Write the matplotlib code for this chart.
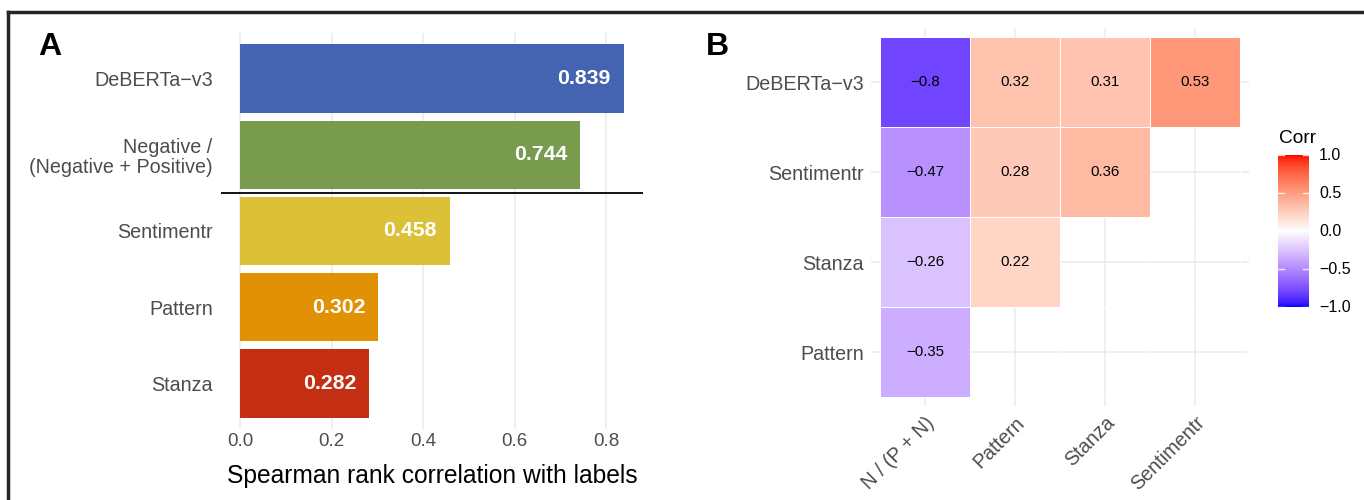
import numpy as np
import matplotlib
matplotlib.use("Agg")
import matplotlib.pyplot as plt
from matplotlib.colors import ListedColormap, Normalize
from matplotlib.lines import Line2D
import matplotlib.transforms as mtransforms

plt.rcParams['font.family'] = ['Liberation Sans', 'DejaVu Sans']

# ---------------- data ----------------
bar_labels = ["DeBERTa\u2212v3", "Negative /\n(Negative + Positive)", "Sentimentr", "Pattern", "Stanza"]
bar_values = [0.839, 0.744, 0.458, 0.302, 0.282]
bar_colors = ["#4463B0", "#789B4E", "#DBC038", "#E09104", "#C42E12"]
bar_xticks = [0.0, 0.2, 0.4, 0.6, 0.8]

heat_rows = ["DeBERTa\u2212v3", "Sentimentr", "Stanza", "Pattern"]
heat_cols = ["N / (P + N)", "Pattern", "Stanza", "Sentimentr"]
heat_values = [
    [-0.80, 0.32, 0.31, 0.53],
    [-0.47, 0.28, 0.36, np.nan],
    [-0.26, 0.22, np.nan, np.nan],
    [-0.35, np.nan, np.nan, np.nan],
]
legend_ticks = [-1.0, -0.5, 0.0, 0.5, 1.0]

# ---------------- helpers ----------------
W, H = 1364, 500
fig = plt.figure(figsize=(W / 100, H / 100), dpi=100)


def px_axes(l, t, r, b):
    return fig.add_axes([l / W, 1 - b / H, (r - l) / W, (b - t) / H])


M = np.array([[0.4124564, 0.3575761, 0.1804375],
              [0.2126729, 0.7151522, 0.0721750],
              [0.0193339, 0.1191920, 0.9503041]])
Minv = np.linalg.inv(M)
WHITE = np.array([0.95047, 1.0, 1.08883])


def srgb_to_lab(rgb):
    rgb = np.asarray(rgb, float)
    lin = np.where(rgb <= 0.04045, rgb / 12.92, ((rgb + 0.055) / 1.055) ** 2.4)
    xyz = M @ lin / WHITE
    d = 6 / 29
    f = np.where(xyz > d ** 3, np.cbrt(xyz), xyz / (3 * d * d) + 4 / 29)
    return np.array([116 * f[1] - 16, 500 * (f[0] - f[1]), 200 * (f[1] - f[2])])


def lab_to_srgb(lab):
    L, a, b = lab
    fy = (L + 16) / 116
    fx = fy + a / 500
    fz = fy - b / 200
    d = 6 / 29
    f = np.array([fx, fy, fz])
    xyz = np.where(f > d, f ** 3, 3 * d * d * (f - 4 / 29)) * WHITE
    lin = np.clip(Minv @ xyz, 0, 1)
    return np.where(lin <= 0.0031308, 12.92 * lin, 1.055 * lin ** (1 / 2.4) - 0.055)


lab_low = srgb_to_lab([0, 0, 1])
lab_mid = srgb_to_lab([1, 1, 1])
lab_high = srgb_to_lab([1, 0, 0])
samples = []
for t in np.linspace(-1, 1, 301):
    if t < 0:
        lab = lab_mid + (-t) * (lab_low - lab_mid)
    else:
        lab = lab_mid + t * (lab_high - lab_mid)
    samples.append(np.clip(lab_to_srgb(lab), 0, 1))
cmap = ListedColormap(samples)
norm = Normalize(-1, 1)

grid_col = "#EBEBEB"
tick_col = "#4D4D4D"
lab_fs = 14.2

# ---------------- panel A ----------------
axA = px_axes(221, 33, 643, 429)
ypos = np.arange(len(bar_values))
axA.barh(ypos, bar_values, height=0.9, color=bar_colors, zorder=2)
for y, v in zip(ypos, bar_values):
    axA.text(v - 0.028, y, f"{v:.3f}", ha="right", va="center", color="white",
             fontsize=15.3, fontweight="bold", zorder=3)
axA.axhline(1.5, color="black", lw=1.3, zorder=4)
axA.set_xlim(-0.042, 0.881)
axA.set_ylim(len(bar_values) - 0.4, -0.6)
axA.set_yticks(ypos)
axA.set_yticklabels(bar_labels, fontsize=lab_fs, color=tick_col, multialignment="right",
                    linespacing=1.1)
axA.set_xticks(bar_xticks)
axA.set_xticklabels([f"{t:.1f}" for t in bar_xticks], fontsize=13.5, color=tick_col)
axA.tick_params(length=0, pad=6)
axA.tick_params(axis="x", pad=3)
axA.grid(axis="x", color=grid_col, lw=1.1, zorder=0)
axA.set_axisbelow(True)
for s in axA.spines.values():
    s.set_visible(False)
axA.set_xlabel("Spearman rank correlation with labels", fontsize=17.7, labelpad=10)

# ---------------- panel B ----------------
axB = px_axes(871, 28, 1249, 406)
vals = np.ma.masked_invalid(np.array(heat_values, float))
xe = np.arange(len(heat_cols) + 1) - 0.5
ye = np.arange(len(heat_rows) + 1) - 0.5
axB.pcolormesh(xe, ye, vals, cmap=cmap, norm=norm, edgecolors="#FFFFFF", linewidth=0.4, zorder=2)
for i in range(len(heat_rows)):
    for j in range(len(heat_cols)):
        v = heat_values[i][j]
        if not np.isnan(v):
            axB.text(j, i, f"{v:g}".replace("-", "\u2212"), ha="center", va="center",
                     fontsize=10.8, color="black", zorder=3)
axB.set_xlim(-0.6, len(heat_cols) - 0.4)
axB.set_ylim(len(heat_rows) - 0.4, -0.6)
axB.set_xticks(np.arange(len(heat_cols)))
axB.set_xticklabels(heat_cols, rotation=45, ha="right", va="top", rotation_mode="anchor",
                    fontsize=lab_fs, color=tick_col)
axB.set_yticks(np.arange(len(heat_rows)))
axB.set_yticklabels(heat_rows, fontsize=lab_fs, color=tick_col)
axB.tick_params(length=0, pad=5)
axB.grid(True, color=grid_col, lw=1.1, zorder=0)
axB.set_axisbelow(True)
for s in axB.spines.values():
    s.set_visible(False)

# colorbar legend (drawn explicitly)
cax = px_axes(1278, 155, 1309, 307)
grad = np.linspace(-1, 1, 300)[:, None]
cax.imshow(grad, cmap=cmap, norm=norm, aspect="auto", origin="lower",
           extent=[0, 1, -1, 1], interpolation="bilinear")
cax.set_xlim(0, 1)
cax.set_ylim(-1, 1)
cax.axis("off")
btr = mtransforms.blended_transform_factory(cax.transAxes, cax.transData)
for t in legend_ticks:
    cax.plot([0, 0.2], [t, t], color="white", lw=1, transform=btr, alpha=0.8)
    cax.plot([0.8, 1], [t, t], color="white", lw=1, transform=btr, alpha=0.8)
    cax.text(1 + 10 / 31, t, f"{t:.1f}".replace("-", "\u2212"), transform=btr,
             ha="left", va="center", fontsize=11.5, color="black", clip_on=False)
fig.text(1279 / W, 1 - 143 / H, "Corr", fontsize=13.8, ha="left", va="baseline")

# panel letters
fig.text(38 / W, 1 - 55 / H, "A", fontsize=23, fontweight="bold", ha="left", va="baseline")
fig.text(706 / W, 1 - 55 / H, "B", fontsize=23, fontweight="bold", ha="left", va="baseline")

# frame
fig.add_artist(Line2D([8 / W, 1], [1 - 12 / H, 1 - 12 / H], transform=fig.transFigure,
                      color="#262626", lw=2.5))
fig.add_artist(Line2D([8 / W, 8 / W], [1 - 12 / H, 0], transform=fig.transFigure,
                      color="#262626", lw=2.5))

fig.savefig("out.png", dpi=100)
